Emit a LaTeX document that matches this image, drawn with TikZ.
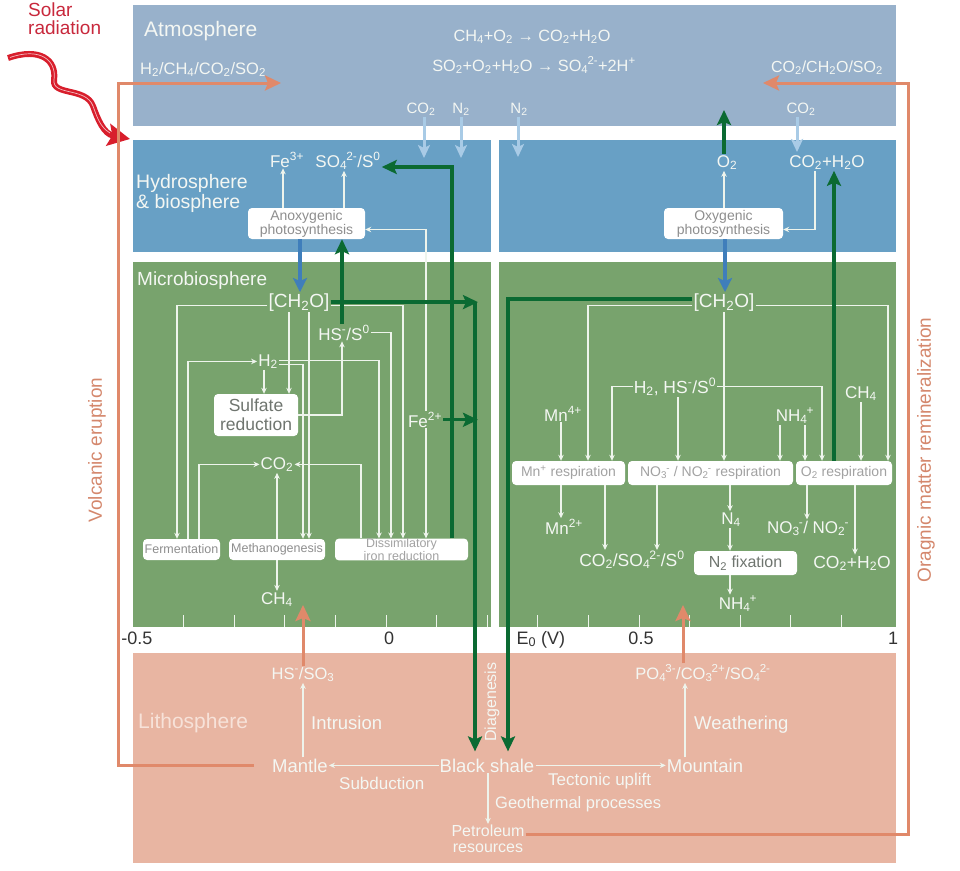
\documentclass[tikz,border=0pt]{standalone}
\usepackage{fontspec}
\setmainfont{Liberation Sans}
\usetikzlibrary{arrows.meta,calc}
\definecolor{atmc}{HTML}{98B1CB}
\definecolor{hydc}{HTML}{68A0C5}
\definecolor{micc}{HTML}{78A36D}
\definecolor{litc}{HTML}{E8B5A2}
\definecolor{dgr}{HTML}{0B6A32}
\definecolor{sblue}{HTML}{3F7EBB}
\definecolor{lblue}{HTML}{A9CBE6}
\definecolor{orng}{HTML}{E0896A}
\definecolor{orlbl}{HTML}{D4876C}
\definecolor{solr}{HTML}{D81E2C}
\definecolor{solt}{HTML}{C8283C}
\definecolor{tw}{HTML}{F4F7F3}
\definecolor{lt}{HTML}{F7E2D9}
\definecolor{bxt}{HTML}{8E8E8E}
\definecolor{bxl}{HTML}{A2A2A2}
\definecolor{bxd}{HTML}{6F756F}
\definecolor{axt}{HTML}{333333}
\definecolor{wln}{HTML}{EEF4EC}
\newcommand\xdn[1]{\textsubscript{#1}}
\newcommand\xup[1]{\textsuperscript{#1}}
\newcommand\xsd[2]{\textsubscript{#1}\kern-0.05em\textsuperscript{#2}}
\newcommand\xfs[1]{\fontsize{#1}{#1}\selectfont}
\begin{document}
\begin{tikzpicture}[x=1pt,y=-1pt,
  lbl/.style={text=tw, inner sep=1pt},
  box/.style={fill=white, rounded corners=4pt, inner sep=0pt, align=center},
  wl/.style={draw=wln, line width=1.1pt, -{Stealth[length=6pt,width=5.5pt]}},
  gA/.style={draw=dgr, line width=3.2pt, -{Stealth[length=15pt,width=14pt,inset=3pt]}},
  bA/.style={draw=sblue, line width=4pt, -{Stealth[length=14pt,width=14pt,inset=3pt]}},
  lA/.style={draw=lblue, line width=3pt, -{Stealth[length=13pt,width=12pt,inset=3pt]}},
  oA/.style={draw=orng, line width=3pt, -{Stealth[length=16pt,width=15pt,inset=3pt]}},
  tick/.style={draw=wln, line width=1pt}
]
\useasboundingbox (0,0) rectangle (960,870);
% regions
\fill[atmc] (133,5) rectangle (896,126);
\fill[hydc] (133,140) rectangle (491,252);
\fill[hydc] (499,140) rectangle (896,252);
\fill[micc] (133,262) rectangle (491,627);
\fill[micc] (499,262) rectangle (896,627);
\fill[litc] (133,653) rectangle (896,863);
\foreach \i in {1,...,7} \draw[tick] ({133+50.6*\i},615) -- ++(0,12);
\foreach \i in {8,...,14} \draw[tick] ({133+50.6*\i},615) -- ++(0,12);

% solar radiation
\node[text=solt, font=\fontsize{19}{18}\selectfont, align=left, anchor=north west, inner sep=0pt] (solar) at (28,3) {Solar\\radiation};
\draw[solr, line width=6pt, -{Stealth[length=22pt,width=22pt,inset=4pt]}]
  (8,58) .. controls (40,47) and (57,60) .. (54,80) .. controls (52,96) and (86,87) .. (93,106) .. controls (98,120) and (104,134) .. (130,139);
\draw[white, line width=0.7pt, opacity=0.7] (10,57.5) .. controls (40,47) and (57,60) .. (54,80) .. controls (52,96) and (86,87) .. (93,106) .. controls (97,117) and (100,127) .. (110,133);

% atmosphere
\node[lbl, font=\xfs{21}, anchor=base west] (atmT) at (143,36) {Atmosphere};
\node[lbl, font=\xfs{16.5}, anchor=base west] (hcs) at (139,74) {H\xdn{2}/CH\xdn{4}/CO\xdn{2}/SO\xdn{2}};
\node[lbl, font=\xfs{16.3}, anchor=base] (eq1) at (532,41) {CH\xdn{4}+O\xdn{2} → CO\xdn{2}+H\xdn{2}O};
\node[lbl, font=\xfs{16.3}, anchor=base] (eq2) at (534,71) {SO\xdn{2}+O\xdn{2}+H\xdn{2}O → SO\xsd{4}{2-}+2H\xup{+}};
\node[lbl, font=\xfs{16}, anchor=base east] (cco) at (884,72) {CO\xdn{2}/CH\xdn{2}O/SO\xdn{2}};
\node[lbl, font=\xfs{15}, anchor=base] (aco2a) at (421,113) {CO\xdn{2}};
\node[lbl, font=\xfs{15}, anchor=base] (an2a) at (461,113) {N\xdn{2}};
\node[lbl, font=\xfs{15}, anchor=base] (an2b) at (519,113) {N\xdn{2}};
\node[lbl, font=\xfs{15}, anchor=base] (aco2b) at (801,113) {CO\xdn{2}};
\coordinate (lb1) at (424,158);
\coordinate (lb2) at (461,158);
\coordinate (lb3) at (518,157);
\coordinate (lb4) at (797,152);
\draw[lA] (424,0 |- aco2a.south) -- (lb1);
\draw[lA] (461,0 |- an2a.south) -- (lb2);
\draw[lA] (518,0 |- an2b.south) -- (lb3);
\draw[lA] (797,0 |- aco2b.south) -- (lb4);

% hydrosphere
\node[lbl, font=\fontsize{19.5}{20}\selectfont, align=left, anchor=north west] (hydT) at (135,173) {Hydrosphere\\\& biosphere};
\node[lbl, font=\xfs{17}, anchor=base] (fe3) at (287,167) {Fe\xup{3+}};
\node[lbl, font=\xfs{17}, anchor=base] (so4) at (348,167) {SO\xsd{4}{2-}/S\xup{0}};
\node[box, font=\fontsize{14}{13}\selectfont, text=bxt, minimum width=117pt, minimum height=31pt] (anox) at (306.5,223.5) {Anoxygenic\\photosynthesis};
\node[lbl, font=\xfs{17}, anchor=base] (o2h) at (727,167) {O\xdn{2}};
\node[lbl, font=\xfs{17}, anchor=base] (cwh) at (827,167) {CO\xdn{2}+H\xdn{2}O};
\node[box, font=\fontsize{14}{13}\selectfont, text=bxt, minimum width=119pt, minimum height=31pt] (oxy) at (723.5,223.5) {Oxygenic\\photosynthesis};
\draw[wl] (283,0 |- anox.north) -- (283,0 |- fe3.south);
\draw[wl] (344,0 |- anox.north) -- (344,0 |- so4.south);
\draw[wl] (724,0 |- oxy.north) -- (724,0 |- o2h.south);
\draw[wl] (815,0 |- cwh.south) |- ([yshift=-6pt]oxy.east);

% microbiosphere left
\node[lbl, font=\xfs{19}, anchor=base west] (micT) at (136,285) {Microbiosphere};
\node[lbl, font=\xfs{19}, anchor=base] (ch2oL) at (299,307) {[CH\xdn{2}O]};
\node[lbl, font=\xfs{17}, anchor=base] (hsL) at (344,340) {HS\xup{-}/S\xup{0}};
\node[lbl, font=\xfs{17}, anchor=base] (h2L) at (268,366) {H\xdn{2}};
\node[box, font=\fontsize{17.5}{19}\selectfont, text=bxd, minimum width=84pt, minimum height=42pt] (sulf) at (256,415) {Sulfate\\reduction};
\node[lbl, font=\xfs{17}, anchor=base] (fe2) at (425,427) {Fe\xup{2+}};
\node[lbl, font=\xfs{17}, anchor=base] (co2L) at (277,469) {CO\xdn{2}};
\node[box, font=\xfs{12.5}, text=bxt, minimum width=77pt, minimum height=21pt] (ferm) at (181.5,549.5) {Fermentation};
\node[box, font=\xfs{12.5}, text=bxt, minimum width=96pt, minimum height=21pt] (meth) at (277,549.5) {Methanogenesis};
\node[box, font=\fontsize{12.5}{9}\selectfont, text=bxl, minimum width=133pt, minimum height=21pt] (dis) at (401.5,549.5) {Dissimilatory\\iron reduction};
\node[lbl, font=\xfs{17}, anchor=base] (ch4L) at (277,604) {CH\xdn{4}};

\draw[wl] ([yshift=-3pt]ch2oL.west) -| (177,0 |- ferm.north);
\draw[wl] (188,0 |- ferm.north) |- (h2L.west);
\draw[wl] (199,0 |- ferm.north) |- (co2L.west);
\draw[wl] (264,0 |- h2L.south) -- (264,0 |- sulf.north);
\draw[wl] (289,0 |- ch2oL.south) -- (289,0 |- sulf.north);
\draw[wl] (309,0 |- ch2oL.south) -- (309,0 |- meth.north);
\draw[wl] ([yshift=-3pt]h2L.east) -| (303,0 |- meth.north);
\draw[wl] ([yshift=1pt]h2L.east) -| (379,0 |- dis.north);
\draw[wl] ([yshift=-3pt]ch2oL.east) -| (403,0 |- dis.north);
\draw[wl] (hsL.east) -| (391,0 |- dis.north);
\draw[wl] (sulf.east) -| (342,0 |- hsL.south);
\draw[wl] (co2L.south |- meth.north) -- (co2L.south);
\draw[wl] (361,0 |- dis.north) |- (co2L.east);
\draw[wl] (meth.south) -- (ch4L.north);
\draw[wl] (426,0 |- fe2.south) -- (426,0 |- dis.north);
\draw[wl] (426,0 |- fe2.north) |- ([yshift=-6pt]anox.east);

% microbiosphere right
\node[lbl, font=\xfs{19}, anchor=base] (ch2oR) at (724,307) {[CH\xdn{2}O]};
\node[lbl, font=\xfs{17.5}, anchor=base] (hhs) at (675,393) {H\xdn{2}, HS\xup{-}/S\xup{0}};
\node[lbl, font=\xfs{17}, anchor=base] (mn4) at (563,421) {Mn\xup{4+}};
\node[lbl, font=\xfs{17}, anchor=base] (nh4a) at (795,421) {NH\xsd{4}{+}};
\node[lbl, font=\xfs{17}, anchor=base] (ch4R) at (861,398) {CH\xdn{4}};
\node[box, font=\xfs{14}, text=bxl, minimum width=113pt, minimum height=24pt] (mnr) at (568.5,473) {Mn\xup{+} respiration};
\node[box, font=\xfs{14}, text=bxl, minimum width=165pt, minimum height=24pt] (nor) at (710.5,473) {NO\xsd{3}{-} / NO\xsd{2}{-} respiration};
\node[box, font=\xfs{14}, text=bxl, minimum width=96pt, minimum height=24pt] (o2r) at (844,473) {O\xdn{2} respiration};
\node[lbl, font=\xfs{17}, anchor=base] (mn2) at (564,534) {Mn\xup{2+}};
\node[lbl, font=\xfs{17.5}, anchor=base] (cso) at (632,566) {CO\xdn{2}/SO\xsd{4}{2-}/S\xup{0}};
\node[lbl, font=\xfs{17}, anchor=base] (n4) at (731,524) {N\xdn{4}};
\node[box, font=\xfs{16}, text=bxd, minimum width=103pt, minimum height=24pt] (n2f) at (745.5,563) {N\xdn{2} fixation};
\node[lbl, font=\xfs{17}, anchor=base] (nh4b) at (738,609) {NH\xsd{4}{+}};
\node[lbl, font=\xfs{17}, anchor=base] (nono) at (808,533) {NO\xsd{3}{-}/ NO\xsd{2}{-}};
\node[lbl, font=\xfs{17.5}, anchor=base] (cwR) at (852,568) {CO\xdn{2}+H\xdn{2}O};

\draw[wl] ([yshift=-3pt]ch2oR.west) -| (588,0 |- mnr.north);
\draw[wl] ([yshift=-3pt]ch2oR.east) -| (888,0 |- o2r.north);
\draw[wl] (724,0 |- ch2oR.south) -- (724,0 |- nor.north);
\draw[wl] (hhs.west) -| (612,0 |- mnr.north);
\draw[wl] (hhs.east) -| (822,0 |- o2r.north);
\draw[wl] (678,0 |- hhs.south) -- (678,0 |- nor.north);
\draw[wl] (561,0 |- mn4.south) -- (561,0 |- mnr.north);
\draw[wl] (780,0 |- nh4a.south) -- (780,0 |- nor.north);
\draw[wl] (805,0 |- nh4a.south) -- (805,0 |- o2r.north);
\draw[wl] (861,0 |- ch4R.south) -- (861,0 |- o2r.north);
\draw[wl] (561,0 |- mnr.south) -- (561,0 |- mn2.north);
\draw[wl] (605,0 |- mnr.south) -- (605,0 |- cso.north);
\draw[wl] (657,0 |- nor.south) -- (657,0 |- cso.north);
\draw[wl] (730,0 |- nor.south) -- (730,0 |- n4.north);
\draw[wl] (730,0 |- n4.south) -- (730,0 |- n2f.north);
\draw[wl] (730,0 |- n2f.south) -- (730,0 |- nh4b.north);
\draw[wl] (807,0 |- o2r.south) -- (807,0 |- nono.north);
\draw[wl] (855,0 |- o2r.south) -- (855,0 |- cwR.north);

% axis labels
\node[text=axt, font=\xfs{18}, anchor=base] (am05) at (137,644) {-0.5};
\node[text=axt, font=\xfs{18}, anchor=base] (a0) at (389,644) {0};
\node[text=axt, font=\xfs{18}, anchor=base west] (ae) at (513,644) {E\xdn{0} (V)};
\node[text=axt, font=\xfs{18}, anchor=base] (a05) at (641,644) {0.5};
\node[text=axt, font=\xfs{18}, anchor=base] (a1) at (893,644) {1};

% lithosphere
\node[text=lt, inner sep=1pt, font=\xfs{21}, anchor=base west] (litT) at (137,728) {Lithosphere};
\node[lbl, font=\xfs{16.5}, anchor=base] (hsso) at (303,679) {HS\xup{-}/SO\xdn{3}};
\node[lbl, font=\xfs{18.5}, anchor=base west] (intr) at (310,729) {Intrusion};
\node[lbl, font=\xfs{18.5}, anchor=base] (mantle) at (300,772) {Mantle};
\node[lbl, font=\xfs{17}, anchor=base west] (subd) at (338,789) {Subduction};
\node[lbl, font=\xfs{18.5}, anchor=base] (bshale) at (487,772) {Black shale};
\node[lbl, font=\xfs{16}, rotate=90] (diag) at (492,702) {Diagenesis};
\node[lbl, font=\xfs{17}, anchor=base west] (tect) at (547,785) {Tectonic uplift};
\node[lbl, font=\xfs{18.5}, anchor=base] (mount) at (705,772) {Mountain};
\node[lbl, font=\xfs{18.5}, anchor=base west] (weath) at (693,729) {Weathering};
\node[lbl, font=\xfs{16.5}, anchor=base] (po4) at (703,679) {PO\xsd{4}{3-}/CO\xsd{3}{2+}/SO\xsd{4}{2-}};
\node[lbl, font=\xfs{16.5}, anchor=base west] (geo) at (494,808) {Geothermal processes};
\node[lbl, font=\fontsize{16}{16}\selectfont, align=center] (petro) at (488,839) {Petroleum\\resources};

\draw[wl] (303,0 |- mantle.north) -- (303,0 |- hsso.south);
\draw[wl] (bshale.west) -- (mantle.east);
\draw[wl] (bshale.east) -- (mount.west);
\draw[wl] (685,0 |- mount.north) -- (685,0 |- po4.south);
\draw[wl] (488,0 |- bshale.south) -- (488,0 |- petro.north);

% vertical labels
\node[text=orlbl, font=\xfs{19}, rotate=90] (volc) at (97,450) {Volcanic eruption};
\node[text=orlbl, font=\xfs{19}, rotate=90] (ormr) at (926,450) {Oragnic matter remineralization};

% orange connectors
\coordinate (vtop) at (118,83);
\coordinate (vend) at (281,83);
\coordinate (rtop) at (908,83);
\coordinate (rend) at (763,83);
\coordinate (up1) at (303,605);
\coordinate (up2) at (683,605);
\draw[oA] ([xshift=-17pt]mantle.west) -| (vtop) -- (vend);
\draw[oA] ([yshift=5pt]petro.east) -| (rtop) -- (rend);
\draw[oA] (hsso.north) -- (up1);
\draw[oA] (683,0 |- po4.north) -- (up2);

% blue arrows
\draw[bA] (300,0 |- anox.south) -- (300,0 |- ch2oL.north);
\draw[bA] (725,0 |- oxy.south) -- (725,0 |- ch2oR.north);

% green arrows
\coordinate (atmO2) at (724,110);
\draw[gA] (ch2oL.east) -- (478,0 |- ch2oL.east);
\draw[gA, shorten >=6pt] (475,0 |- ch2oL.east) -- (475,0 |- bshale.north);
\draw[gA] (fe2.east) -- (478,0 |- fe2.east);
\draw[gA] (452,0 |- dis.north) |- ([yshift=-6pt]so4.east);
\draw[gA] (342,0 |- hsL.north) -- (342,0 |- anox.south);
\draw[gA, shorten >=6pt] ([yshift=3pt]ch2oR.west) -| (508,0 |- bshale.north);
\draw[gA] (834,0 |- o2r.north) -- (834,0 |- cwh.south);
\draw[gA] (724,0 |- o2h.north) -- (atmO2);
\end{tikzpicture}
\end{document}
